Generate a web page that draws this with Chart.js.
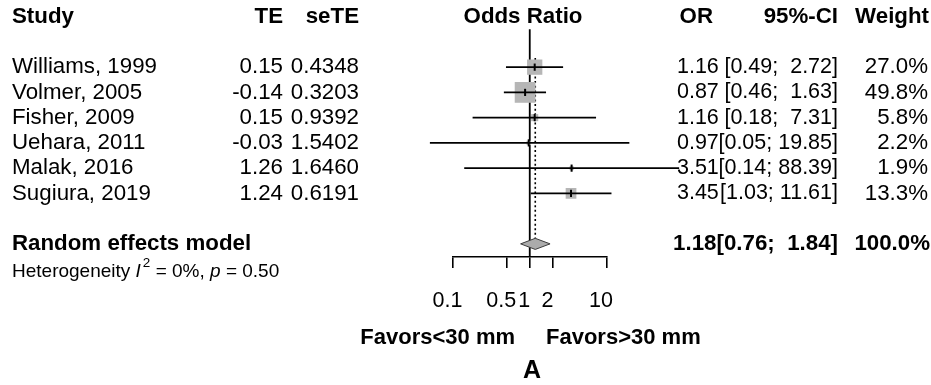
<!DOCTYPE html>
<html>
<head>
<meta charset="utf-8">
<script src="https://cdn.jsdelivr.net/npm/chart.js@4"></script>
<style>
  html, body { margin: 0; padding: 0; background: #fff; }
  #wrap { width: 931px; height: 385px; position: relative; }
</style>
</head>
<body>
<div id="wrap"><canvas id="forest"></canvas></div>
<script>
// Study-level results
const studies = ['Williams, 1999', 'Volmer, 2005', 'Fisher, 2009', 'Uehara, 2011', 'Malak, 2016', 'Sugiura, 2019'];
const te      = [0.15, -0.14, 0.15, -0.03, 1.26, 1.24];
const seTE    = [0.4348, 0.3203, 0.9392, 1.5402, 1.6460, 0.6191];
const oddsRatio = [1.16, 0.87, 1.16, 0.97, 3.51, 3.45];
const ciLow   = [0.49, 0.46, 0.18, 0.05, 0.14, 1.03];
const ciHigh  = [2.72, 1.63, 7.31, 19.85, 88.39, 11.61];
const weights = [27.0, 49.8, 5.8, 2.2, 1.9, 13.3];

// Pooled (random effects) estimate
const pooledOR = [1.18];
const pooledCI = [0.76, 1.84];
const pooledWeight = [100.0];
const heterogeneity = { i2: '0%', p: '0.50' };

// Axis ticks (odds ratio, log scale)
const xTicks = [0.1, 0.5, 1, 2, 10];

// Layout: row index on the hidden y scale
const studyRow = studies.map((_, i) => i + 1);
const pooledRow = 8;
const FONT = "'Liberation Sans', Arial, Helvetica, sans-serif";
const BODY = 22.3;
const RIGHT = 21.5;

const fmt2 = v => v.toFixed(2);
const ciText = (lo, hi) => '[' + fmt2(lo) + '; ' + fmt2(hi).padStart(5, ' ') + ']';

const datasets = [];

// study estimate ticks (top)
datasets.push({
  type: 'line', showLine: false, order: 0, clip: false,
  data: oddsRatio.map((v, i) => ({ x: v, y: studyRow[i] })),
  pointStyle: 'line', rotation: 90, pointRadius: 3.6, pointBorderWidth: 2,
  pointBorderColor: '#000', pointBackgroundColor: '#000', pointHoverRadius: 0
});

// confidence intervals
studies.forEach((s, i) => {
  datasets.push({
    type: 'line', order: 1, clip: false,
    data: [{ x: ciLow[i], y: studyRow[i] }, { x: ciHigh[i], y: studyRow[i] }],
    borderColor: '#000', borderWidth: 1.8, pointRadius: 0, fill: false
  });
});

// weighted squares
datasets.push({
  type: 'line', showLine: false, order: 2, clip: false,
  data: oddsRatio.map((v, i) => ({ x: v, y: studyRow[i] })),
  pointStyle: 'rect',
  pointRadius: weights.map(w => 2.08 * Math.sqrt(w)),
  pointBackgroundColor: '#b6b6b6', pointBorderWidth: 0, pointBorderColor: 'rgba(0,0,0,0)'
});

// pooled diamond
const dh = 0.22;
datasets.push({
  type: 'line', order: 3, clip: false,
  data: [
    { x: pooledCI[0], y: pooledRow },
    { x: pooledOR[0], y: pooledRow - dh },
    { x: pooledCI[1], y: pooledRow },
    { x: pooledOR[0], y: pooledRow + dh },
    { x: pooledCI[0], y: pooledRow }
  ],
  borderColor: '#3c3c3c', borderWidth: 1, backgroundColor: '#ababab',
  fill: 'shape', pointRadius: 0, tension: 0
});

// pooled estimate reference (dotted)
datasets.push({
  type: 'line', order: 4, clip: false,
  data: [{ x: pooledOR[0], y: 0.64 }, { x: pooledOR[0], y: pooledRow }],
  borderColor: '#000', borderWidth: 1.6, borderDash: [2, 2.6], pointRadius: 0, fill: false
});

// line of no effect
datasets.push({
  type: 'line', order: 5, clip: false,
  data: [{ x: 1, y: -0.5 }, { x: 1, y: 8.52 }],
  borderColor: '#000', borderWidth: 1.8, pointRadius: 0, fill: false
});

// table text, drawn around the plot
const tablePlugin = {
  id: 'forestTable',
  afterDraw(chart) {
    const ctx = chart.ctx;
    const ys = chart.scales.y;
    const put = (s, x, y, align, weight, size, style) => {
      ctx.font = (style || '') + ' ' + (weight || 'normal') + ' ' + size + 'px ' + FONT;
      ctx.textAlign = align;
      ctx.textBaseline = 'middle';
      ctx.fillStyle = '#000';
      ctx.fillText(s, x, y);
    };
    const colTE = 283, colSE = 359, colOR = 718.8, colCI = 838, colW = 928;
    ctx.save();

    // header
    const hy = 17;
    put('Study', 12, hy, 'left', 'bold', BODY);
    put('TE', colTE, hy, 'right', 'bold', BODY);
    put('seTE', colSE, hy, 'right', 'bold', BODY);
    put('Odds Ratio', 523, hy, 'center', 'bold', BODY);
    put('OR', 713, hy, 'right', 'bold', BODY);
    put('95%-CI', colCI, hy, 'right', 'bold', BODY);
    put('Weight', colW + 1, hy, 'right', 'bold', BODY);

    // study rows
    studies.forEach((s, i) => {
      const y = ys.getPixelForValue(studyRow[i]);
      put(s, 12, y, 'left', 'normal', BODY);
      put(fmt2(te[i]), colTE, y, 'right', 'normal', BODY);
      put(seTE[i].toFixed(4), colSE, y, 'right', 'normal', BODY);
      put(fmt2(oddsRatio[i]), colOR, y, 'right', 'normal', RIGHT);
      put(ciText(ciLow[i], ciHigh[i]), colCI, y, 'right', 'normal', RIGHT);
      put(weights[i].toFixed(1) + '%', colW, y, 'right', 'normal', BODY);
    });

    // pooled row
    const py = ys.getPixelForValue(pooledRow);
    put('Random effects model', 12, py, 'left', 'bold', BODY);
    put(fmt2(pooledOR[0]), 716.5, py, 'right', 'bold', BODY);
    put(ciText(pooledCI[0], pooledCI[1]), colCI, py, 'right', 'bold', BODY);
    put(pooledWeight[0].toFixed(1) + '%', colW + 2, py, 'right', 'bold', BODY);

    // heterogeneity line
    let x = 12;
    const hy2 = 272;
    const seg = (s, size, style, dy) => {
      ctx.font = (style || '') + ' normal ' + size + 'px ' + FONT;
      ctx.textAlign = 'left';
      ctx.textBaseline = 'middle';
      ctx.fillStyle = '#000';
      ctx.fillText(s, x, hy2 + (dy || 0));
      x += ctx.measureText(s).width;
    };
    seg('Heterogeneity ', 19);
    seg('I', 19, 'italic');
    x += 2;
    seg('2', 13.5, '', -9);
    seg(' = ' + heterogeneity.i2 + ', ', 19);
    seg('p', 19, 'italic');
    seg(' = ' + heterogeneity.p, 19);

    // direction labels and panel letter
    put('Favors<30 mm', 515, 338, 'right', 'bold', 22);
    put('Favors>30 mm', 546, 338, 'left', 'bold', 22);
    put('A', 532, 371, 'center', 'bold', 25);
    ctx.restore();
  }
};

new Chart(document.getElementById('forest'), {
  type: 'line',
  data: { datasets },
  options: {
    responsive: true,
    maintainAspectRatio: false,
    animation: false,
    events: [],
    layout: { autoPadding: false, padding: { left: 453, right: 324.5, top: 0, bottom: 0 } },
    plugins: { legend: { display: false }, tooltip: { enabled: false } },
    scales: {
      x: {
        type: 'logarithmic',
        position: 'bottom',
        min: xTicks[0],
        max: xTicks[xTicks.length - 1],
        afterBuildTicks: s => { s.ticks = xTicks.map(v => ({ value: v })); },
        afterFit: s => { s.height = 128; },
        grid: { drawOnChartArea: false, drawTicks: true, tickLength: 11, color: '#000', lineWidth: 1.6 },
        border: { display: true, color: '#000', width: 1.6 },
        ticks: {
          autoSkip: false, maxRotation: 0, minRotation: 0,
          padding: 20, labelOffset: -5.5, color: '#000',
          font: { family: FONT, size: 21.5 },
          callback: v => String(v)
        }
      },
      y: { type: 'linear', reverse: true, min: -1.66, max: 8.52, display: false }
    }
  },
  plugins: [tablePlugin]
});
</script>
</body>
</html>
